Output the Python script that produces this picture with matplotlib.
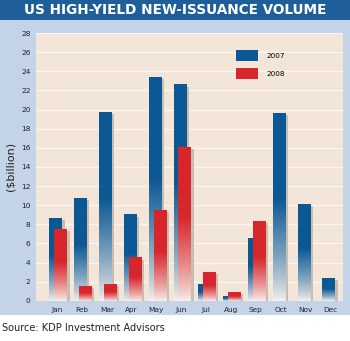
import numpy as np
import matplotlib
matplotlib.use("Agg")
import matplotlib.pyplot as plt
import matplotlib.patheffects as pe
from matplotlib.patches import Rectangle, Patch
from matplotlib.colors import to_rgb

months = ["Jan", "Feb", "Mar", "Apr", "May", "Jun", "Jul", "Aug", "Sep", "Oct", "Nov", "Dec"]
vol_2007 = [8.6, 10.7, 19.7, 9.0, 23.4, 22.6, 1.7, 0.5, 6.5, 19.6, 10.1, 2.4]
vol_2008 = [7.5, 1.5, 1.7, 4.5, 9.5, 16.1, 3.0, 0.9, 8.3, 0, 0, 0]
yticks = list(range(0, 29, 2))

blue = "#0b5894"
red = "#d7262c"
banner = "#1f5f99"
frame = "#c3d4e8"
beige = "#f3e6d8"

fig = plt.figure(figsize=(3.5, 3.41), dpi=100)
fig.patch.set_facecolor("white")
# light blue frame and title banner
fig.add_artist(Rectangle((0, 0.076), 1, 0.865, transform=fig.transFigure,
                         facecolor=frame, edgecolor="none", zorder=0))
fig.add_artist(Rectangle((0, 0.941), 1, 0.059, transform=fig.transFigure,
                         facecolor=banner, edgecolor="none", zorder=0))
fig.text(0.5, 0.971, "US HIGH-YIELD NEW-ISSUANCE VOLUME", color="white",
         fontsize=9.8, fontweight="bold", ha="center", va="center")
fig.text(0.006, 0.038, "Source: KDP Investment Advisors", fontsize=7,
         ha="left", va="center", color="#222222")

ax = fig.add_axes([0.103, 0.118, 0.877, 0.785])
ax.set_facecolor(beige)

x = np.arange(len(months))
w = 0.52


def gradient_bars(xpos, vals, color, z):
    shadow = [pe.SimplePatchShadow(offset=(1.6, -1.4), shadow_rgbFace="#c7bdb0", alpha=1.0)]
    bars = ax.bar(xpos, vals, w, color="none", edgecolor="none", zorder=z)
    c = np.array(to_rgb(color))
    light = np.array([0.97, 0.95, 0.93])
    for b in bars:
        h = b.get_height()
        if h <= 0:
            continue
        sh = Rectangle((b.get_x(), 0), w, h, facecolor="none", edgecolor="none",
                       zorder=z - 0.5, path_effects=shadow)
        ax.add_patch(sh)
        n = 256
        t = np.linspace(0, 1, n)  # 0 bottom, 1 top
        f = np.clip(t / 0.55, 0, 1) ** 0.8
        col = light[None, :] * (1 - f[:, None]) + c[None, :] * f[:, None]
        img = col[::-1][:, None, :]
        ax.imshow(img, extent=[b.get_x(), b.get_x() + w, 0, h], aspect="auto",
                  zorder=z, interpolation="bilinear")


gradient_bars(x, vol_2007, blue, 3)
gradient_bars(x + 0.2, vol_2008, red, 4)
ax.set_xlim(-0.8, 11.57)
ax.set_ylim(0, 28)

ax.set_yticks(yticks)
ax.set_xticks(x + 0.05)
ax.set_xticklabels(months)
ax.grid(axis="y", color="#fbf6f0", linewidth=0.9, zorder=1)
ax.set_axisbelow(True)
ax.tick_params(axis="both", length=0, labelsize=5.3, colors="#222222")
ax.tick_params(axis="x", pad=4.5)
ax.tick_params(axis="y", pad=4)
for s in ax.spines.values():
    s.set_visible(False)
ax.set_ylabel("($billion)", fontsize=8, color="#222222", labelpad=4)

leg = ax.legend(handles=[Patch(facecolor=blue, label="2007"), Patch(facecolor=red, label="2008")],
                loc="upper left", bbox_to_anchor=(0.63, 0.96), frameon=False,
                fontsize=5.2, handlelength=3.0, handleheight=2.0, labelspacing=0.9,
                handletextpad=1.3)

fig.savefig("out.png", dpi=100)
